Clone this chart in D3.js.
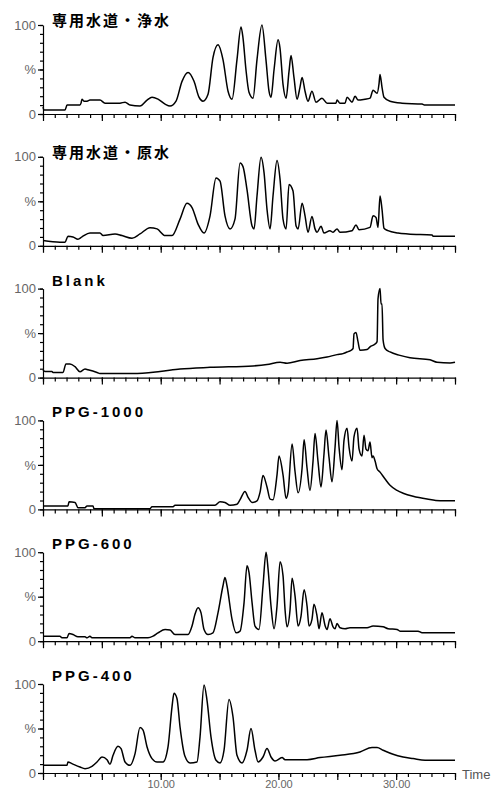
<!DOCTYPE html>
<html>
<head>
<meta charset="utf-8">
<script src="https://cdn.jsdelivr.net/npm/d3@7"></script>
<style>
  body { margin: 0; background: #fff; }
  svg { display: block; }
</style>
</head>
<body>
<div id="chart"></div>
<script>
// サンプル名（上から順に）
const titles = ['専用水道・浄水', '専用水道・原水', 'Blank', 'PPG-1000', 'PPG-600', 'PPG-400'];

// 各クロマトグラム [保持時間(min), 相対強度(%)]
const jousui = [[0,7.8],[0.08,4.4],[1.87,4.4],[2.04,10],[3.14,10],[3.23,12.2],[3.31,16.7],[3.48,14.4],[3.74,14.4],[3.99,15.6],[4.84,15.6],[5.27,12.2],[6.54,12.2],[6.97,13.3],[7.39,10],[8.24,8.9],[8.84,15.6],[9.26,18.9],[9.77,16.7],[10.37,11.1],[10.79,8.9],[11.3,14.4],[11.81,36.7],[12.32,46.7],[12.83,36.7],[13.25,18.9],[13.59,14.4],[14.02,22.2],[14.44,63.3],[14.87,77.8],[15.29,61.1],[15.72,25.6],[16.06,16.7],[16.48,61.1],[16.82,97.8],[16.99,85.6],[17.24,50],[17.5,24.4],[17.84,17.8],[18.18,61.1],[18.6,100],[18.94,61.1],[19.2,25.6],[19.37,18.9],[19.63,50],[19.97,83.3],[20.13,74.4],[20.39,33.3],[20.65,17.8],[20.9,47.8],[21.07,65.6],[21.32,41.1],[21.58,16.7],[21.83,30],[22.01,41.1],[22.26,25.6],[22.51,14.4],[22.85,25.6],[23.19,13.3],[23.7,17.8],[24.13,12.2],[24.89,12.2],[24.98,15.6],[25.23,12.2],[25.66,12.2],[25.83,18.9],[26.25,13.3],[26.51,20],[26.77,15.6],[27.36,16.7],[27.78,17.8],[28.04,26.7],[28.38,23.3],[28.55,34.4],[28.63,44.4],[28.8,30],[28.97,18.9],[29.48,14.4],[30.5,12.2],[32.2,11.1],[32.45,10],[35,10]];

const gensui = [[0,5.9],[1.44,4],[1.87,4],[2.12,10.7],[2.55,10],[2.97,7.4],[3.31,10],[3.99,14.4],[4.84,14.4],[5.1,11.5],[6.12,13.3],[6.71,11.5],[7.56,8.5],[8.24,13.3],[9.09,20.4],[9.69,19],[10.37,11.5],[10.96,11.5],[11.64,30],[12.23,47.8],[12.66,43],[13.17,24.4],[13.68,14.4],[14.19,33.7],[14.7,76.3],[15.04,72.6],[15.46,33.7],[15.89,19],[16.31,30],[16.74,93],[16.99,89],[17.33,63],[17.76,22.2],[17.93,19],[18.18,55.9],[18.52,99.6],[18.78,81.9],[19.03,41],[19.29,19],[19.54,55.9],[19.88,95.9],[20.14,74.4],[20.39,30],[20.65,19],[20.9,68.9],[21.24,61.5],[21.5,22.2],[21.67,19],[22.01,47.8],[22.26,33.7],[22.51,15.2],[22.85,33],[23.11,19],[23.28,15.2],[23.62,21.9],[23.87,14.4],[24.38,17],[24.64,15.2],[24.98,19],[25.23,15.2],[26.25,17],[26.59,23.3],[26.85,18.1],[27.78,20.7],[28.04,33.7],[28.29,31.9],[28.46,20.7],[28.63,55.9],[28.8,41],[28.97,19.6],[29.31,17],[30.16,14.4],[31.01,13.3],[33.05,12.2],[33.14,10.7],[35,10.7]];

const blank = [[0,8.5],[0.17,6.9],[0.76,6.9],[0.85,5.8],[1.7,5.8],[1.95,15.4],[2.29,15.4],[2.72,12.3],[3.14,6.5],[3.57,9.6],[3.82,8.8],[4.59,5.8],[4.84,4.6],[7.65,4.6],[9.94,6.9],[11.64,9.6],[14.19,11.5],[17.84,13.1],[19.03,14.6],[20.14,17.3],[20.73,16.2],[21.84,19.2],[23.28,21.2],[24.13,23.1],[24.98,25.8],[25.49,26.9],[25.83,28.8],[26.08,30],[26.34,32.7],[26.42,49.2],[26.59,50.8],[26.76,40.4],[26.93,30.8],[27.53,31.5],[27.78,34.6],[28.21,37.7],[28.38,40.4],[28.46,88.5],[28.63,100],[28.72,82.7],[28.8,82.7],[28.89,42.3],[29.06,32.7],[29.48,28.8],[30.33,25],[31.18,22.3],[32.88,20],[33.47,17.3],[34.58,16.5],[35,17.3]];

const ppg1000 = [[0,3.9],[2.12,3.9],[2.21,8.5],[2.72,7.8],[2.97,1.9],[3.57,1.9],[3.74,3.9],[4.25,3.9],[4.33,0.8],[9.09,0.8],[9.26,3.1],[11.05,3.1],[11.21,4.7],[14.61,4.7],[15.04,8.5],[15.46,7.8],[15.89,4.7],[16.48,5.8],[16.74,10.9],[17.16,20.2],[17.42,13.6],[17.76,7.8],[18.18,9.7],[18.44,19.4],[18.69,38],[19.03,25.2],[19.29,11.6],[19.54,10.9],[19.88,38.8],[20.05,60.1],[20.39,38.8],[20.65,12.4],[20.82,19.4],[21.16,73.6],[21.41,42.6],[21.67,18.6],[22.01,46.5],[22.18,78.3],[22.43,46.5],[22.68,21.3],[22.94,54.3],[23.11,85.3],[23.36,54.3],[23.62,25.2],[23.87,62],[24.04,89.1],[24.3,58.1],[24.55,31],[24.81,69.8],[24.98,100],[25.15,69.8],[25.4,44.6],[25.57,77.5],[25.83,91.1],[26,69.8],[26.25,54.3],[26.42,81.4],[26.68,91.1],[26.85,67.8],[27.1,60.1],[27.27,83.3],[27.44,67.8],[27.61,65.9],[27.78,75.6],[27.95,58.1],[28.04,60.1],[28.21,54.3],[28.38,45.7],[28.63,41.9],[29.06,34.1],[29.48,27.1],[30.08,21.3],[30.59,18.2],[31.44,14.7],[32.63,11.6],[33.73,9.7],[35,9.7]];

const ppg600 = [[0,5.7],[1.44,5.7],[1.61,3.8],[2.04,3.8],[2.21,8.7],[2.55,7.5],[2.97,4.9],[3.57,4.9],[3.74,3.8],[3.99,5.7],[4.16,3.8],[7.39,3.8],[7.56,5.7],[7.82,3.8],[8.92,3.8],[9.35,5.7],[9.77,9.4],[10.37,13.2],[10.79,12.5],[11.21,7.5],[12.32,7.5],[12.66,17],[12.91,30.2],[13.17,37.7],[13.42,32.1],[13.68,13.2],[14.02,7.5],[14.44,9.4],[14.87,32.1],[15.29,62.3],[15.46,71.7],[15.63,62.3],[16.06,24.5],[16.4,9.4],[16.74,11.3],[17.08,43.4],[17.33,84.9],[17.5,77.4],[17.76,43.4],[18.01,17],[18.35,13.2],[18.69,62.3],[18.95,100],[19.12,81.1],[19.37,39.6],[19.63,14],[19.88,39.6],[20.14,89.4],[20.39,73.6],[20.56,35.8],[20.73,16.2],[20.99,35.8],[21.16,70.6],[21.41,50.9],[21.67,17],[21.92,28.3],[22.18,57.7],[22.43,39.6],[22.6,17],[22.85,24.5],[23.02,41.5],[23.28,28.3],[23.45,14],[23.7,32.1],[23.96,17.7],[24.13,13.2],[24.38,25.3],[24.64,16.2],[24.81,14],[24.98,20],[25.23,15.1],[25.66,14],[26.08,15.1],[27.53,15.1],[28.04,17],[28.89,16.2],[29.31,14],[30.08,13.2],[30.33,11.3],[31.86,11.3],[32.2,9.4],[35,9.4]];

const ppg400 = [[0,8.6],[2.04,8.6],[2.12,12.4],[2.46,10.5],[3.14,6.8],[3.57,4.9],[4.16,7.5],[4.59,12.4],[5.01,18],[5.44,15],[5.69,9.8],[5.95,19.9],[6.37,30],[6.63,27.4],[6.97,12.4],[7.39,8.6],[7.82,21.8],[8.24,51.1],[8.5,48.1],[8.84,29.3],[9.26,16.2],[9.69,12.4],[10.2,12.4],[10.62,29.3],[10.96,74.4],[11.13,89.5],[11.38,83.8],[11.64,51.9],[12.06,18.8],[12.49,11.3],[13.08,12.4],[13.34,40.6],[13.68,98.9],[13.93,82],[14.27,40.6],[14.7,14.3],[15.04,11.3],[15.38,25.6],[15.8,82.7],[16.14,63.2],[16.48,19.9],[16.91,11.3],[17.33,25.6],[17.67,50],[18.01,25.6],[18.27,12.4],[18.69,18],[19.03,27.4],[19.37,18],[19.71,13.5],[20.31,17.3],[20.56,15],[22.43,15],[23.53,17.3],[25.23,19.9],[26.93,23.7],[27.95,28.6],[28.38,28.6],[28.89,25.6],[29.74,21],[30.59,18],[31.44,16.2],[32.46,14.3],[35,14.3]];

const traces = [jousui, gensui, blank, ppg1000, ppg600, ppg400];

// 軸ラベル
const xTickLabels = [10, 20, 30];
const yTickLabels = [[100, '100'], [50, '%'], [0, '0']];
const xAxisTitle = 'Time';

const width = 496, height = 792;
const plotLeft = 43, plotRight = 455;
const firstTop = 25, panelStep = 131.8, panelH = 89;

const svg = d3.select('#chart')
  .append('svg')
  .attr('width', width)
  .attr('height', height);

const x = d3.scaleLinear().domain([0, 35]).range([plotLeft, plotRight]);

const line = d3.line()
  .x(d => x(d[0]))
  .curve(d3.curveMonotoneX);

traces.forEach((data, i) => {
  const top = firstTop + i * panelStep;
  const y = d3.scaleLinear().domain([0, 100]).range([top + panelH, top]);
  const g = svg.append('g');

  // x軸 小目盛り（1分）
  g.append('g')
    .attr('transform', `translate(0,${top + panelH})`)
    .call(d3.axisBottom(x).tickValues(d3.range(0, 36, 1)).tickSize(4).tickSizeOuter(0).tickFormat(''))
    .call(a => a.select('.domain').remove());

  // x軸 大目盛り（5分）
  const xMajor = g.append('g')
    .attr('transform', `translate(0,${top + panelH})`)
    .call(d3.axisBottom(x).tickValues(d3.range(0, 36, 5)).tickSize(7).tickSizeOuter(0)
      .tickPadding(0)
      .tickFormat(d => (i === traces.length - 1 && xTickLabels.includes(d)) ? d.toFixed(2) : ''));

  // y軸 小目盛り（10%）
  g.append('g')
    .attr('transform', `translate(${plotLeft},0)`)
    .call(d3.axisLeft(y).tickValues(d3.range(0, 101, 10)).tickSize(3).tickSizeOuter(0).tickFormat(''))
    .call(a => a.select('.domain').remove());

  // y軸 大目盛り
  const yMajor = g.append('g')
    .attr('transform', `translate(${plotLeft},0)`)
    .call(d3.axisLeft(y).tickValues(yTickLabels.map(d => d[0])).tickSize(5).tickSizeOuter(0)
      .tickPadding(2)
      .tickFormat(v => yTickLabels.find(d => d[0] === v)[1]));

  yMajor.selectAll('text')
    .attr('font-family', 'Liberation Sans, Arial, sans-serif')
    .attr('font-size', 13)
    .attr('fill', '#666');
  xMajor.selectAll('text')
    .attr('font-family', 'Liberation Sans, Arial, sans-serif')
    .attr('font-size', 11)
    .attr('fill', '#666');
  g.selectAll('line, path.domain').attr('stroke', '#000').attr('stroke-width', 1.2);

  // トレース
  g.append('path')
    .datum(data)
    .attr('fill', 'none')
    .attr('stroke', '#000')
    .attr('stroke-width', 1.5)
    .attr('stroke-linejoin', 'round')
    .attr('d', line.y(d => y(d[1])));

  // サンプル名
  const isCJK = /[^\x00-\x7F]/.test(titles[i]);
  g.append('text')
    .attr('x', 52)
    .attr('y', isCJK ? top + 1 : top - 3)
    .attr('font-family', isCJK ? 'Noto Sans CJK JP' : 'Liberation Sans, Arial, sans-serif')
    .attr('font-weight', 'bold')
    .attr('font-size', 15)
    .attr('letter-spacing', isCJK ? 2 : 3)
    .attr('fill', '#000')
    .text(titles[i]);

  if (i === traces.length - 1) {
    g.append('text')
      .attr('x', plotRight + 7)
      .attr('y', top + panelH + 6)
      .attr('font-family', 'Liberation Sans, Arial, sans-serif')
      .attr('font-size', 13)
      .attr('fill', '#555')
      .text(xAxisTitle);
  }
});
</script>
</body>
</html>
